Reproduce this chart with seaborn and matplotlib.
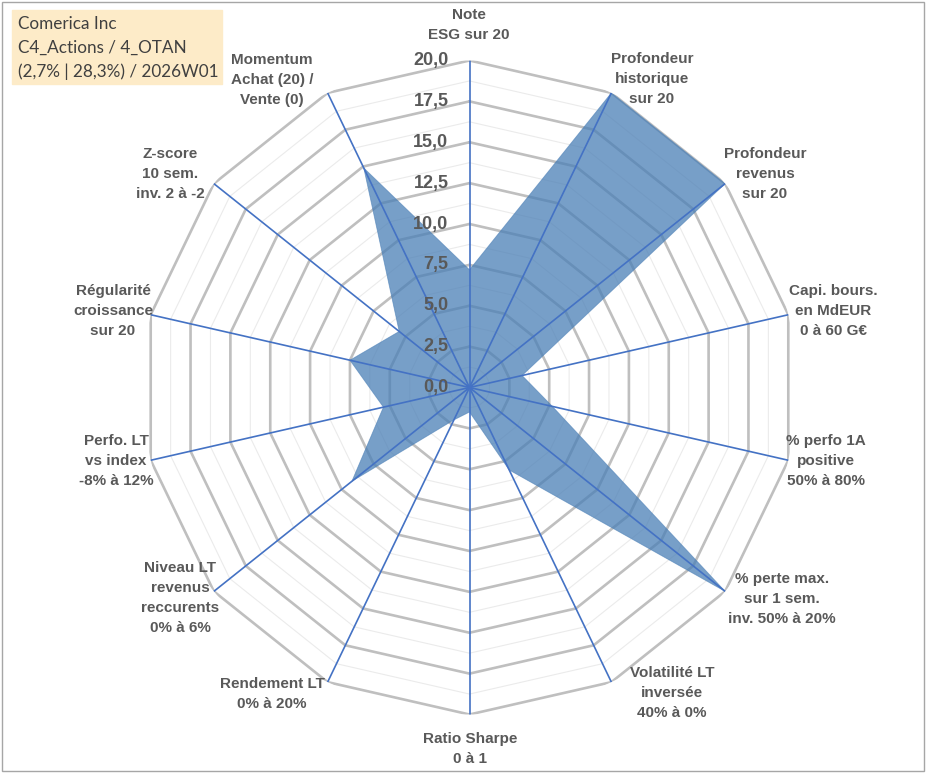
import numpy as np
import matplotlib.pyplot as plt
import seaborn as sns

# axes of the radar, clockwise from the top
labels = [
    "Note\nESG sur 20",
    "Profondeur\nhistorique\nsur 20",
    "Profondeur\nrevenus\nsur 20",
    "Capi. bours.\nen MdEUR\n0 à 60 G€",
    "% perfo 1A\npositive\n50% à 80%",
    "% perte max.\nsur 1 sem.\ninv. 50% à 20%",
    "Volatilité LT\ninversée\n40% à 0%",
    "Ratio Sharpe\n0 à 1",
    "Rendement LT\n0% à 20%",
    "Niveau LT\nrevenus\nreccurents\n0% à 6%",
    "Perfo. LT\nvs index\n-8% à 12%",
    "Régularité\ncroissance\nsur 20",
    "Z-score\n10 sem.\ninv. 2 à -2",
    "Momentum\nAchat (20) /\nVente (0)",
]
values = [7.2, 20, 20, 3.3, 5.2, 20, 5.6, 1.5, 2.2, 9.2, 5.4, 7.5, 5.5, 14.9]
ticks = [0.0, 2.5, 5.0, 7.5, 10.0, 12.5, 15.0, 17.5, 20.0]
tick_labels = ["0,0", "2,5", "5,0", "7,5", "10,0", "12,5", "15,0", "17,5", "20,0"]
title_lines = ["Comerica Inc", "C4_Actions / 4_OTAN", "(2,7% | 28,3%) / 2026W01"]

# label centres in pixels (x, y from top)
label_pos = [(469, 25), (652, 79), (765, 174), (833, 311), (826, 461),
             (782, 599), (672, 693), (470, 749), (272, 694), (180, 598),
             (116, 461), (113, 311), (170, 174), (272, 80)]

sns.set_theme(style="white")
plt.rcParams["font.family"] = ["Liberation Sans", "DejaVu Sans"]

W, H = 933, 776
fig = plt.figure(figsize=(W / 100, H / 100), dpi=100)
cx, cy, R = 469.5, 387.5, 327
ax = fig.add_axes([(cx - R) / W, (H - cy - R) / H, 2 * R / W, 2 * R / H], projection="polar")
ax.set_theta_zero_location("N")
ax.set_theta_direction(-1)

n = len(labels)
theta = np.linspace(0, 2 * np.pi, n, endpoint=False)
theta_c = np.append(theta, theta[0])

# polygon grid: major every 2.5, light minor in between
for lvl in np.arange(1.25, 20.01, 1.25):
    major = abs(lvl / 2.5 - round(lvl / 2.5)) < 1e-6
    ax.plot(theta_c, [lvl] * (n + 1),
            color="#BFBFBF" if major else "#EBEBEB",
            lw=1.9 if major else 0.8, zorder=1)

vals_c = values + [values[0]]
ax.fill(theta_c, vals_c, color="#4A7FB6", alpha=0.75, zorder=2, lw=0)
sns.lineplot(x=theta_c, y=vals_c, ax=ax, sort=False, estimator=None,
             color="#4A7FB6", lw=0.6, alpha=0.6, zorder=3)

# spokes
for t in theta:
    ax.plot([t, t], [0, 20], color="#4472C4", lw=1.2, zorder=4)

for v, s in zip(ticks, tick_labels):
    ax.annotate(s, xy=(0, v), xytext=(-21, 0), textcoords="offset pixels",
                ha="right", va="center", fontsize=13, fontweight="bold",
                color="#595959", zorder=6)

ax.set_ylim(0, 20)
ax.grid(False)
ax.set_xticks([])
ax.set_yticks([])
ax.set_xlabel("")
ax.set_ylabel("")
ax.spines["polar"].set_visible(False)
ax.patch.set_alpha(0)

for lab, (px, py) in zip(labels, label_pos):
    fig.text(px / W, 1 - py / H, lab, ha="center", va="center", fontsize=11,
             fontweight="bold", color="#595959", linespacing=1.55)

# title box
fig.patches.append(plt.Rectangle((12 / W, 1 - 84 / H), 210 / W, 74 / H,
                                 transform=fig.transFigure, color="#FDEBC8", zorder=0))
for i, line in enumerate(title_lines):
    fig.text(18 / W, 1 - (24 + 24 * i) / H, line, ha="left", va="center",
             fontsize=12.3, color="#404040", family=["Lato", "DejaVu Sans"])

# chart frame
fig.patches.append(plt.Rectangle((2 / W, 1 - 771 / H), 922 / W, 769 / H,
                                 transform=fig.transFigure, fill=False,
                                 edgecolor="#A6A6A6", lw=1))

fig.savefig("out.png", dpi=100)
